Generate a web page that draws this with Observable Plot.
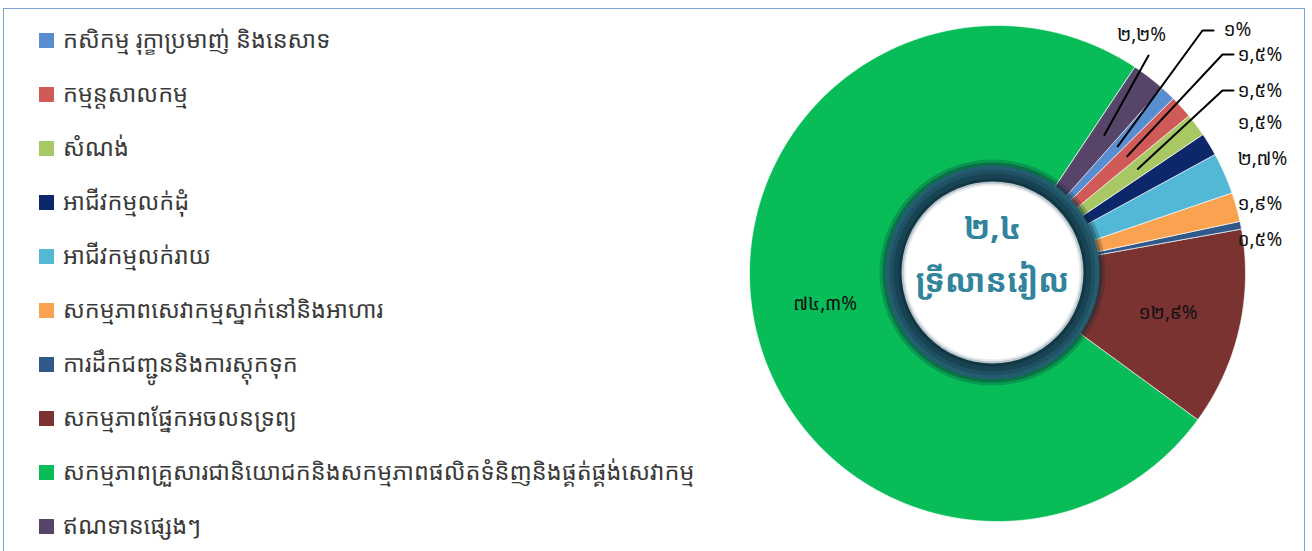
<!DOCTYPE html>
<html>
<head>
<meta charset="utf-8">
<script src="https://cdn.jsdelivr.net/npm/d3@7"></script>
<script src="https://cdn.jsdelivr.net/npm/@observablehq/plot@0.6"></script>
<style>
  html, body { margin: 0; padding: 0; background: #fff; }
  #wrap { position: relative; width: 1312px; height: 551px; overflow: hidden; background: #fff;
          font-family: "Noto Sans Khmer", "Khmer OS", "Khmer OS System", "Noto Serif Khmer", "Noto Sans", "DejaVu Sans", sans-serif; }
  #frame { position: absolute; left: 3px; top: 8px; width: 1302px; height: 600px; border: 1.5px solid #7fa3d3; box-sizing: border-box; }
  #legend { position: absolute; left: 0; top: 13px; width: 722px; }
  .item { height: 54px; display: flex; align-items: center; }
  .sw { width: 15px; height: 15px; margin-left: 39px; margin-right: 9px; flex: none; }
  .lbl { font-size: 23.5px; color: #3a3a3a; white-space: nowrap; line-height: 1; }
  #chart { position: absolute; left: 722px; top: 0; }
</style>
</head>
<body>
<div id="wrap">
  <div id="frame"></div>
  <div id="legend"></div>
  <div id="chart"></div>
</div>
<script>
// ---- data ----
const categories = [
  "កសិកម្ម រុក្ខាប្រមាញ់ និងនេសាទ",
  "កម្មន្តសាលកម្ម",
  "សំណង់",
  "អាជីវកម្មលក់ដុំ",
  "អាជីវកម្មលក់រាយ",
  "សកម្មភាពសេវាកម្មស្នាក់នៅនិងអាហារ",
  "ការដឹកជញ្ជូននិងការស្តុកទុក",
  "សកម្មភាពផ្នែកអចលនទ្រព្យ",
  "សកម្មភាពគ្រួសារជានិយោជកនិងសកម្មភាពផលិតទំនិញនិងផ្គត់ផ្គង់សេវាកម្ម",
  "ឥណទានផ្សេងៗ"
];
const shares = [1, 1.5, 1.5, 1.5, 2.7, 1.9, 0.5, 12.9, 74.3, 2.2];
const colors = ["#588dd0", "#d05a57", "#a7c862", "#0c286a", "#52b8d6", "#f9a24f", "#30598a", "#7b3332", "#08bd58", "#564469"];
const centerTitle = ["២,៤", "ទ្រីលានរៀល"];

// ---- layout (not data) ----
const R_OUT = 248, R_IN = 95, R_LABEL = 175;
const startDeg = 41.6;
const ringDX = -5, ringDY = -1;
// outside label placements relative to pie centre (screen coords), with optional elbow
const outside = [
  {i: 9, tx: 144, ty: -239, anchor: "middle", path: [[151, -218]]},
  {i: 0, tx: 226, ty: -244, anchor: "start", path: [[216, -243], [205, -243]]},
  {i: 1, tx: 240, ty: -219, anchor: "start", path: [[236, -219], [225, -219]]},
  {i: 2, tx: 240, ty: -183, anchor: "start", path: [[236, -183], [225, -183]]},
  {i: 3, tx: 240, ty: -151, anchor: "start", path: null},
  {i: 4, tx: 240, ty: -115, anchor: "start", path: null},
  {i: 5, tx: 240, ty: -70, anchor: "start", path: null},
  {i: 6, tx: 240, ty: -34, anchor: "start", path: null}
];
const insideLabels = [7, 8];

const khDigits = "០១២៣៤៥៦៧៨៩";
const toKhmer = v => String(v).replace(".", ",").replace(/[0-9]/g, d => khDigits[+d]) + "%";

// legend
const legend = document.getElementById("legend");
categories.forEach((c, i) => {
  const it = document.createElement("div"); it.className = "item";
  const sw = document.createElement("div"); sw.className = "sw"; sw.style.background = colors[i];
  const tx = document.createElement("div"); tx.className = "lbl"; tx.textContent = c;
  it.append(sw, tx); legend.append(it);
});

// pie geometry via d3.pie
const rad = Math.PI / 180;
const arcs = d3.pie().value(d => d).sort(null)
  .startAngle(startDeg * rad).endAngle(startDeg * rad + 2 * Math.PI)(shares);
const pt = (r, a) => [r * Math.sin(a), -r * Math.cos(a)];
const slicePts = [];
arcs.forEach((a, i) => {
  const n = Math.max(4, Math.ceil((a.endAngle - a.startAngle) / (0.5 * rad)));
  for (let k = 0; k <= n; k++) {
    const t = a.startAngle + (a.endAngle - a.startAngle) * k / n;
    const [x, y] = pt(R_OUT, t); slicePts.push({key: categories[i], x, y});
  }
  for (let k = n; k >= 0; k--) {
    const t = a.startAngle + (a.endAngle - a.startAngle) * k / n;
    const [x, y] = pt(R_IN, t); slicePts.push({key: categories[i], x, y});
  }
});
const mid = i => (arcs[i].startAngle + arcs[i].endAngle) / 2;

// labels
const labelRows = [];
insideLabels.forEach(i => { const [x, y] = pt(R_LABEL, mid(i)); labelRows.push({x, y, text: toKhmer(shares[i]), anchor: "middle"}); });
outside.forEach(o => labelRows.push({x: o.tx, y: o.ty, text: toKhmer(shares[o.i]), anchor: o.anchor}));
const leaderPts = [];
outside.filter(o => o.path).forEach(o => {
  const [ex, ey] = pt(R_LABEL, mid(o.i));
  o.path.forEach(([x, y]) => leaderPts.push({g: o.i, x, y}));
  leaderPts.push({g: o.i, x: ex, y: ey});
});

const centre = [{x: ringDX, y: ringDY}];
const ring = (r, fill, extra = {}) => Plot.dot(centre, {x: "x", y: "y", r, fill, stroke: null, ...extra});
const plot = Plot.plot({
  width: 590, height: 551,
  margin: 0,
  x: {domain: [-275, 315], axis: null},
  y: {domain: [278, -273], axis: null},
  color: {domain: categories, range: colors},
  marks: [
    Plot.line(slicePts, {x: "x", y: "y", z: "key", fill: "key", stroke: "#ffffff", strokeWidth: 0.8, strokeOpacity: 0.8, curve: "linear-closed"}),
    Plot.line(leaderPts, {x: "x", y: "y", z: "g", stroke: "#000", strokeWidth: 2}),
    Plot.text(labelRows.filter(d => d.anchor === "middle"), {x: "x", y: "y", text: "text", fontSize: 19, fill: "#111", textAnchor: "middle"}),
    Plot.text(labelRows.filter(d => d.anchor === "start"), {x: "x", y: "y", text: "text", fontSize: 19, fill: "#111", textAnchor: "start"}),
    // centre ring
    ring(113, "#0b2a33", {fillOpacity: 0.25}),
    ring(110, "#0b2a33", {fillOpacity: 0.35}),
    ring(107, "#255d70"),
    ring(103, "#1f5163"),
    ring(99, "#184353"),
    ring(94, "#123744"),
    ring(91, "#b8c5ca"),
    ring(89, "#e6eaec"),
    ring(87, "#ffffff"),
    Plot.text([centerTitle[0]], {x: () => ringDX, y: () => -45, text: d => d, fontSize: 32, fontWeight: "bold", fill: "#31849b"}),
    Plot.text([centerTitle[1]], {x: () => ringDX, y: () => 8, text: d => d, fontSize: 32, fontWeight: "bold", fill: "#31849b"})
  ]
});
plot.style.fontFamily = '"Noto Sans Khmer", "Khmer OS", "Noto Serif Khmer", "Noto Sans", "DejaVu Sans", sans-serif';
document.getElementById("chart").append(plot);
</script>
</body>
</html>
